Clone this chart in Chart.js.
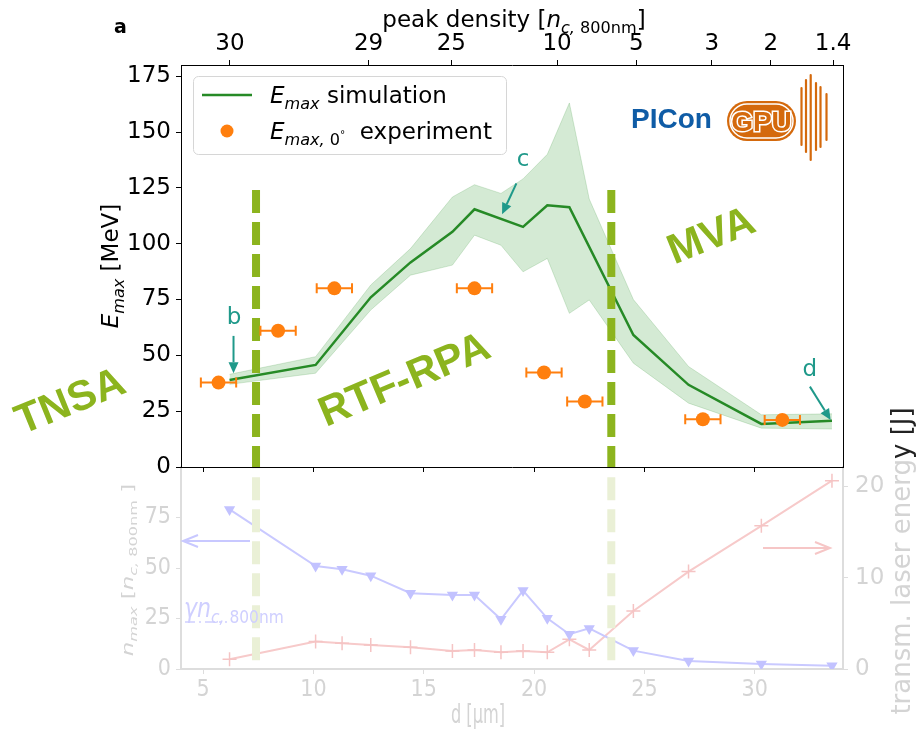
<!DOCTYPE html>
<html>
<head>
<meta charset="utf-8">
<script src="https://cdn.jsdelivr.net/npm/chart.js@4.4.3/dist/chart.umd.min.js"></script>
<style>
  html, body { margin: 0; padding: 0; background: #fff; }
  #wrap { position: relative; width: 916px; height: 733px; }
  #wrap canvas { position: absolute; left: 0; top: 0; }
</style>
</head>
<body>
<div id="wrap">
  <canvas id="bottomPanel" width="916" height="733"></canvas>
  <canvas id="topPanel" width="916" height="733"></canvas>
</div>
<script>
// ---- top panel data: E_max vs target thickness d [um] ----
const densityTicks = [6.22, 12.5, 16.25, 21.04, 24.63, 28.05, 30.73, 33.55];
const densityLabels = ["30", "29", "25", "10", "5", "3", "2", "1.4"];
const dTicks = [5, 10, 15, 20, 25, 30];
const eTicks = [0, 25, 50, 75, 100, 125, 150, 175];

const dSim = [6.2, 10.1, 12.6, 14.4, 16.3, 17.3, 19.5, 20.6, 21.6, 24.5, 27.0, 30.3, 33.5];
const eSim = [39, 45.7, 76, 91.6, 105.3, 115.4, 107.5, 117.2, 116.3, 59.1, 36.8, 19.3, 20.7];

const dBand = [6.2, 10.1, 12.6, 14.4, 16.3, 17.3, 18.5, 19.5, 20.6, 21.6, 22.5, 24.5, 27.0, 30.3, 33.5];
const eUpper = [41.5, 49.4, 81.5, 97.8, 120.9, 126.4, 122.5, 129, 140, 163, 120, 75, 45, 23.4, 23.8];
const eLower = [37, 42, 70.3, 85.9, 90.4, 103.8, 99.3, 87.4, 93.4, 68.8, 74.8, 46.5, 28.6, 17.4, 17];

const dExp = [5.7, 8.4, 10.95, 17.3, 20.45, 22.3, 27.65, 31.25];
const eExp = [37.8, 61, 80, 80, 42.3, 29.3, 21.4, 21.1];
const dExpErr = [0.8, 0.8, 0.8, 0.8, 0.8, 0.8, 0.8, 0.8];

// regime boundaries (vertical dashed lines)
const regimeBounds = [7.4, 23.5];
const regimeTopE = 124;
const regimeBottomN = 3.5;

// ---- bottom panel data ----
const nTicks = [0, 25, 50, 75];
const jTicks = [0, 10, 20];
const dBottom = [6.2, 10.1, 11.3, 12.6, 14.4, 16.3, 17.3, 18.5, 19.5, 20.6, 21.6, 22.5, 24.5, 27.0, 30.3, 33.5];
const nMax = [79, 51, 49.4, 46.2, 37.5, 36.6, 36.6, 24.6, 38.8, 25.1, 17.2, 20.1, 9.1, 4.0, 2.5, 1.6];
const eTrans = [1.06, 3.0, 2.81, 2.63, 2.37, 1.97, 2.08, 1.83, 1.97, 1.83, 3.25, 2.08, 6.35, 10.66, 15.66, 20.6];

const FONT = "'DejaVu Sans', sans-serif";
const NARROW = "'DejaVu Sans Condensed', 'Liberation Sans Narrow', 'DejaVu Sans', sans-serif";
const GREEN = "#268a26";
const ORANGE = "#ff7f0e";
const OLIVE = "#8cb41e";
const TEAL = "#1f998a";
const FADE = "#d4d4d4";

Chart.defaults.font.family = FONT;

const xy = (xs, ys) => xs.map((x, i) => ({ x, y: ys[i] }));
const fixTicks = (vals) => (axis) => { axis.ticks = vals.map((v) => ({ value: v })); };

// text with italic / subscript pieces, e.g. E_max
function richText(ctx, parts, x, y, size, align, color) {
  const fontOf = (st) => {
    const sub = st.startsWith("s") || st === "deg";
    const sz = st === "deg" ? size * 0.45 : sub ? size * 0.7 : size;
    const it = st === "i" || st === "si";
    return `${it ? "italic " : ""}${sz}px ${FONT}`;
  };
  const w = parts.map(([t, st]) => { ctx.font = fontOf(st); return ctx.measureText(t).width; });
  const total = w.reduce((a, b) => a + b, 0);
  let cx = align === "center" ? x - total / 2 : x;
  ctx.fillStyle = color;
  ctx.textAlign = "left";
  ctx.textBaseline = "alphabetic";
  parts.forEach(([t, st], i) => {
    ctx.font = fontOf(st);
    let dy = 0;
    if (st.startsWith("s")) dy = size * 0.24;
    if (st === "deg") dy = -size * 0.05;
    ctx.fillText(t, cx, y + dy);
    cx += w[i];
  });
}

function arrow(ctx, x0, y0, x1, y1, color, lw, headLen, headW, open) {
  const a = Math.atan2(y1 - y0, x1 - x0);
  const bx = x1 - headLen * Math.cos(a), by = y1 - headLen * Math.sin(a);
  const px = Math.sin(a) * headW / 2, py = -Math.cos(a) * headW / 2;
  ctx.save();
  ctx.strokeStyle = color; ctx.fillStyle = color; ctx.lineWidth = lw;
  ctx.beginPath(); ctx.moveTo(x0, y0); ctx.lineTo(open ? x1 : bx, open ? y1 : by); ctx.stroke();
  ctx.beginPath();
  ctx.moveTo(bx + px, by + py); ctx.lineTo(x1, y1); ctx.lineTo(bx - px, by - py);
  if (open) ctx.stroke(); else { ctx.closePath(); ctx.fill(); }
  ctx.restore();
}

// ---- top panel annotations (data coordinates) ----
const pointers = [
  { label: "b", text: [6.4, 66.7], from: [6.38, 58.7], to: [6.38, 42] },
  { label: "c", text: [19.5, 137.4], from: [19.2, 127], to: [18.55, 113.2] },
  { label: "d", text: [32.5, 43.5], from: [32.5, 36], to: [33.44, 21.1] },
];
const regimes = [
  { text: "TNSA", at: [-1.0, 28.8], rot: -22 },
  { text: "RTF-RPA", at: [14.15, 38.5], rot: -23 },
  { text: "MVA", at: [28.05, 103], rot: -22 },
];

const EXP_INDEX = 3;

const topDecor = {
  id: "topDecor",
  beforeDatasetDraw(chart, args) {
    if (args.index !== EXP_INDEX) return;
    const { ctx, scales: { x, y } } = chart;
    ctx.save();
    ctx.strokeStyle = ORANGE; ctx.lineWidth = 2;
    dExp.forEach((d, i) => {
      const x0 = x.getPixelForValue(d - dExpErr[i]);
      const x1 = x.getPixelForValue(d + dExpErr[i]);
      const py = y.getPixelForValue(eExp[i]);
      ctx.beginPath();
      ctx.moveTo(x0, py); ctx.lineTo(x1, py);
      ctx.moveTo(x0, py - 5); ctx.lineTo(x0, py + 5);
      ctx.moveTo(x1, py - 5); ctx.lineTo(x1, py + 5);
      ctx.stroke();
    });
    ctx.restore();
  },
  afterDraw(chart) {
    const { ctx, scales: { x, y }, chartArea: ca } = chart;
    ctx.save();

    // legend
    ctx.beginPath();
    ctx.roundRect(193.5, 76.5, 313, 78, 5);
    ctx.fillStyle = "rgba(255,255,255,0.85)"; ctx.fill();
    ctx.strokeStyle = "#d6d6d6"; ctx.lineWidth = 1; ctx.stroke();
    ctx.strokeStyle = GREEN; ctx.lineWidth = 2.5;
    ctx.beginPath(); ctx.moveTo(202, 95); ctx.lineTo(252, 95); ctx.stroke();
    richText(ctx, [["E", "i"], ["max", "si"], [" simulation", ""]], 270, 103, 23, "left", "#000");
    ctx.fillStyle = ORANGE;
    ctx.beginPath(); ctx.arc(227, 131, 6.5, 0, Math.PI * 2); ctx.fill();
    richText(ctx, [["E", "i"], ["max,", "si"], [" 0", "sr"], ["\u00b0", "deg"], ["  experiment", ""]], 270, 139, 23, "left", "#000");

    // pointer arrows b, c, d
    pointers.forEach((p) => {
      arrow(ctx, x.getPixelForValue(p.from[0]), y.getPixelForValue(p.from[1]),
        x.getPixelForValue(p.to[0]), y.getPixelForValue(p.to[1]), TEAL, 2, 11, 10, false);
      ctx.fillStyle = TEAL;
      ctx.font = `23px ${FONT}`;
      ctx.textAlign = "center"; ctx.textBaseline = "middle";
      ctx.fillText(p.label, x.getPixelForValue(p.text[0]), y.getPixelForValue(p.text[1]));
    });

    // regime labels
    regimes.forEach((r) => {
      ctx.save();
      ctx.translate(x.getPixelForValue(r.at[0]), y.getPixelForValue(r.at[1]));
      ctx.rotate(r.rot * Math.PI / 180);
      ctx.fillStyle = OLIVE;
      ctx.font = `bold 42px 'Liberation Sans', Arial, sans-serif`;
      ctx.textAlign = "center"; ctx.textBaseline = "middle";
      ctx.fillText(r.text, 0, 0);
      ctx.restore();
    });

    // PIConGPU logo
    ctx.fillStyle = "#0f5ca6";
    ctx.font = `bold 28px 'Liberation Sans', Arial, sans-serif`;
    ctx.textAlign = "left"; ctx.textBaseline = "alphabetic";
    ctx.fillText("PICon", 631, 128);
    ctx.beginPath(); ctx.roundRect(727, 101, 69, 40, 20);
    ctx.fillStyle = "#d4690c"; ctx.fill();
    ctx.beginPath(); ctx.roundRect(730, 104, 63, 34, 17);
    ctx.strokeStyle = "#fff"; ctx.lineWidth = 1.5; ctx.stroke();
    ctx.font = `bold 28px 'Liberation Sans', Arial, sans-serif`;
    ctx.textAlign = "center";
    ctx.lineWidth = 3; ctx.strokeStyle = "#fff"; ctx.strokeText("GPU", 761.5, 131);
    ctx.fillStyle = "#d4690c"; ctx.fillText("GPU", 761.5, 131);
    const waves = [[801.5, 88, 145], [806, 80, 152], [810.7, 75, 160], [816, 83, 150], [820.5, 87, 147], [826.5, 94, 140]];
    ctx.strokeStyle = "#d4690c"; ctx.lineWidth = 2.2; ctx.lineCap = "round";
    waves.forEach(([wx, y0, y1]) => { ctx.beginPath(); ctx.moveTo(wx, y0); ctx.lineTo(wx, y1); ctx.stroke(); });

    // axis titles
    richText(ctx, [["peak density [", ""], ["n", "i"], ["c,", "si"], [" 800nm", "sr"], ["]", ""]], 514, 27, 23, "center", "#000");
    ctx.font = `bold 19px ${FONT}`; ctx.fillStyle = "#000"; ctx.textAlign = "left";
    ctx.fillText("a", 114, 33);
    ctx.save();
    ctx.translate(118, (ca.top + ca.bottom) / 2);
    ctx.rotate(-Math.PI / 2);
    richText(ctx, [["E", "i"], ["max", "si"], [" [MeV]", ""]], 0, 0, 23, "center", "#000");
    ctx.restore();

    ctx.restore();
  },
};

const topChart = new Chart(document.getElementById("topPanel"), {
  type: "line",
  data: {
    datasets: [
      { data: xy(dBand, eUpper), borderColor: "rgba(38,138,38,0.18)", borderWidth: 1,
        backgroundColor: "rgba(60,160,60,0.22)", fill: "+1", pointRadius: 0, order: 4 },
      { data: xy(dBand, eLower), borderColor: "rgba(38,138,38,0.18)", borderWidth: 1,
        fill: false, pointRadius: 0, order: 5 },
      { data: xy(dSim, eSim), borderColor: GREEN, borderWidth: 2.5, fill: false, pointRadius: 0, order: 2 },
      { type: "scatter", data: xy(dExp, eExp), backgroundColor: ORANGE, borderWidth: 0, pointRadius: 7, order: 0 },
      ...regimeBounds.map((d) => ({
        data: [{ x: d, y: regimeTopE }, { x: d, y: 0 }], borderColor: OLIVE, borderWidth: 8,
        borderDash: [23, 9], pointRadius: 0, fill: false, order: 1,
      })),
    ],
  },
  options: {
    responsive: false, animation: false, events: [],
    layout: { padding: 0 },
    plugins: { legend: { display: false }, tooltip: { enabled: false } },
    scales: {
      x: {
        type: "linear", position: "bottom", min: 4, max: 34,
        afterBuildTicks: fixTicks(dTicks),
        afterFit: (a) => { a.height = 733 - 467; a.paddingLeft = 0; a.paddingRight = 0; },
        ticks: { display: false },
        grid: { drawOnChartArea: false, tickLength: 5, tickColor: "#000" },
        border: { color: "#000", width: 1 },
      },
      xTop: {
        type: "linear", position: "top", min: 4, max: 34,
        afterBuildTicks: fixTicks(densityTicks),
        afterFit: (a) => { a.height = 65; a.paddingLeft = 0; a.paddingRight = 0; },
        ticks: { callback: (v, i) => densityLabels[i], autoSkip: false, maxRotation: 0,
          color: "#000", font: { size: 23 }, padding: 2 },
        grid: { drawOnChartArea: false, tickLength: 5, tickColor: "#000" },
        border: { color: "#000", width: 1 },
      },
      y: {
        position: "left", min: 0, max: 180,
        afterBuildTicks: fixTicks(eTicks),
        afterFit: (a) => { a.width = 181; a.paddingTop = 0; a.paddingBottom = 0; },
        ticks: { color: "#000", font: { size: 23 }, padding: 5 },
        grid: { drawOnChartArea: false, tickLength: 5, tickColor: "#000" },
        border: { color: "#000", width: 1 },
      },
      yR: {
        position: "right", min: 0, max: 1,
        afterFit: (a) => { a.width = 916 - 843; },
        ticks: { display: false },
        grid: { display: false },
        border: { color: "#000", width: 1 },
      },
    },
  },
  plugins: [topDecor],
});

// ---- bottom panel ----
const bottomDecor = {
  id: "bottomDecor",
  afterDraw(chart) {
    const { ctx, chartArea: ca } = chart;
    ctx.save();
    // gamma n_c label with dash-dot handle
    ctx.strokeStyle = "#cfcfff"; ctx.lineWidth = 1.5; ctx.setLineDash([10, 4, 2, 4]);
    ctx.beginPath(); ctx.moveTo(185, 622); ctx.lineTo(227, 622); ctx.stroke();
    ctx.setLineDash([]);
    ctx.save();
    ctx.translate(184, 617); ctx.scale(0.85, 1);
    richText(ctx, [["\u03b3n", "i"], ["c,", "si"], [" 800nm", "sr"]], 0, 0, 26, "left", "#cfcfff");
    ctx.restore();
    // arrows pointing to axes
    arrow(ctx, 250, 541, 183, 541, "#c8c8ff", 2, 15, 12, true);
    arrow(ctx, 763, 548, 830, 548, "#f6c6c6", 2, 15, 12, true);

    // axis titles (squeezed like the reference)
    ctx.save();
    ctx.translate(478, 716); ctx.scale(0.6, 1);
    ctx.font = `27px ${FONT}`; ctx.fillStyle = FADE;
    ctx.textAlign = "center"; ctx.textBaseline = "middle";
    ctx.fillText("d [\u00b5m]", 0, 0);
    ctx.restore();

    ctx.save();
    ctx.translate(128, (ca.top + ca.bottom) / 2 + 2);
    ctx.rotate(-Math.PI / 2); ctx.scale(1, 0.65);
    richText(ctx, [["n", "i"], ["max", "si"], [" [", ""], ["n", "i"], ["c,", "si"], [" 800nm", "sr"], [" ]", ""]], 0, 8, 23, "center", FADE);
    ctx.restore();

    // right title: dark above the panel edge, faded below
    const drawRight = (color) => {
      ctx.save();
      ctx.translate(903, 561);
      ctx.rotate(-Math.PI / 2);
      ctx.font = `26px ${FONT}`; ctx.fillStyle = color;
      ctx.textAlign = "center"; ctx.textBaseline = "middle";
      ctx.fillText("transm. laser energy [J]", 0, 0);
      ctx.restore();
    };
    ctx.save(); ctx.beginPath(); ctx.rect(880, 380, 40, 80); ctx.clip(); drawRight("#222"); ctx.restore();
    ctx.save(); ctx.beginPath(); ctx.rect(880, 460, 40, 280); ctx.clip(); drawRight(FADE); ctx.restore();
    ctx.restore();
  },
};

const bottomChart = new Chart(document.getElementById("bottomPanel"), {
  type: "line",
  data: {
    datasets: [
      ...regimeBounds.map((d) => ({
        data: [{ x: d, y: 100 }, { x: d, y: regimeBottomN }], yAxisID: "yN",
        borderColor: "#eaf0d6", borderWidth: 8, borderDash: [23, 9], borderDashOffset: 21.7,
        pointRadius: 0, fill: false, order: 0,
      })),
      { data: xy(dBottom, nMax), yAxisID: "yN", borderColor: "#c9c9ff", borderWidth: 2,
        pointStyle: "triangle", pointRotation: 180, pointRadius: 4.5,
        pointBackgroundColor: "#c2c2ff", pointBorderColor: "#c2c2ff", fill: false, order: 1 },
      { data: xy(dBottom, eTrans), yAxisID: "yJ", borderColor: "#f7caca", borderWidth: 2,
        pointStyle: "cross", pointRadius: 7, pointBorderWidth: 1.5, pointBorderColor: "#f5c4c4",
        fill: false, order: 2 },
    ],
  },
  options: {
    responsive: false, animation: false, events: [],
    layout: { padding: { top: 467 } },
    plugins: { legend: { display: false }, tooltip: { enabled: false } },
    scales: {
      x: {
        type: "linear", position: "bottom", min: 4, max: 34,
        afterBuildTicks: fixTicks(dTicks),
        afterFit: (a) => { a.height = 733 - 669; a.paddingLeft = 0; a.paddingRight = 0; },
        ticks: { color: FADE, font: { size: 23, family: NARROW }, padding: 2, maxRotation: 0 },
        grid: { drawOnChartArea: false, tickLength: 5, tickColor: "#dddddd" },
        border: { color: "#dddddd", width: 2 },
      },
      yN: {
        position: "left", min: 0, max: 100,
        afterBuildTicks: fixTicks(nTicks),
        afterFit: (a) => { a.width = 181; a.paddingTop = 0; a.paddingBottom = 0; },
        ticks: { color: FADE, font: { size: 23, family: NARROW }, padding: 5 },
        grid: { drawOnChartArea: false, tickLength: 5, tickColor: "#dddddd" },
        border: { color: "#dddddd", width: 2 },
      },
      yJ: {
        position: "right", min: 0, max: 22.1,
        afterBuildTicks: fixTicks(jTicks),
        afterFit: (a) => { a.width = 916 - 843; a.paddingTop = 0; a.paddingBottom = 0; },
        ticks: { color: FADE, font: { size: 23 }, padding: 7 },
        grid: { drawOnChartArea: false, tickLength: 5, tickColor: "#dddddd" },
        border: { color: "#dddddd", width: 2 },
      },
    },
  },
  plugins: [bottomDecor],
});
</script>
</body>
</html>
